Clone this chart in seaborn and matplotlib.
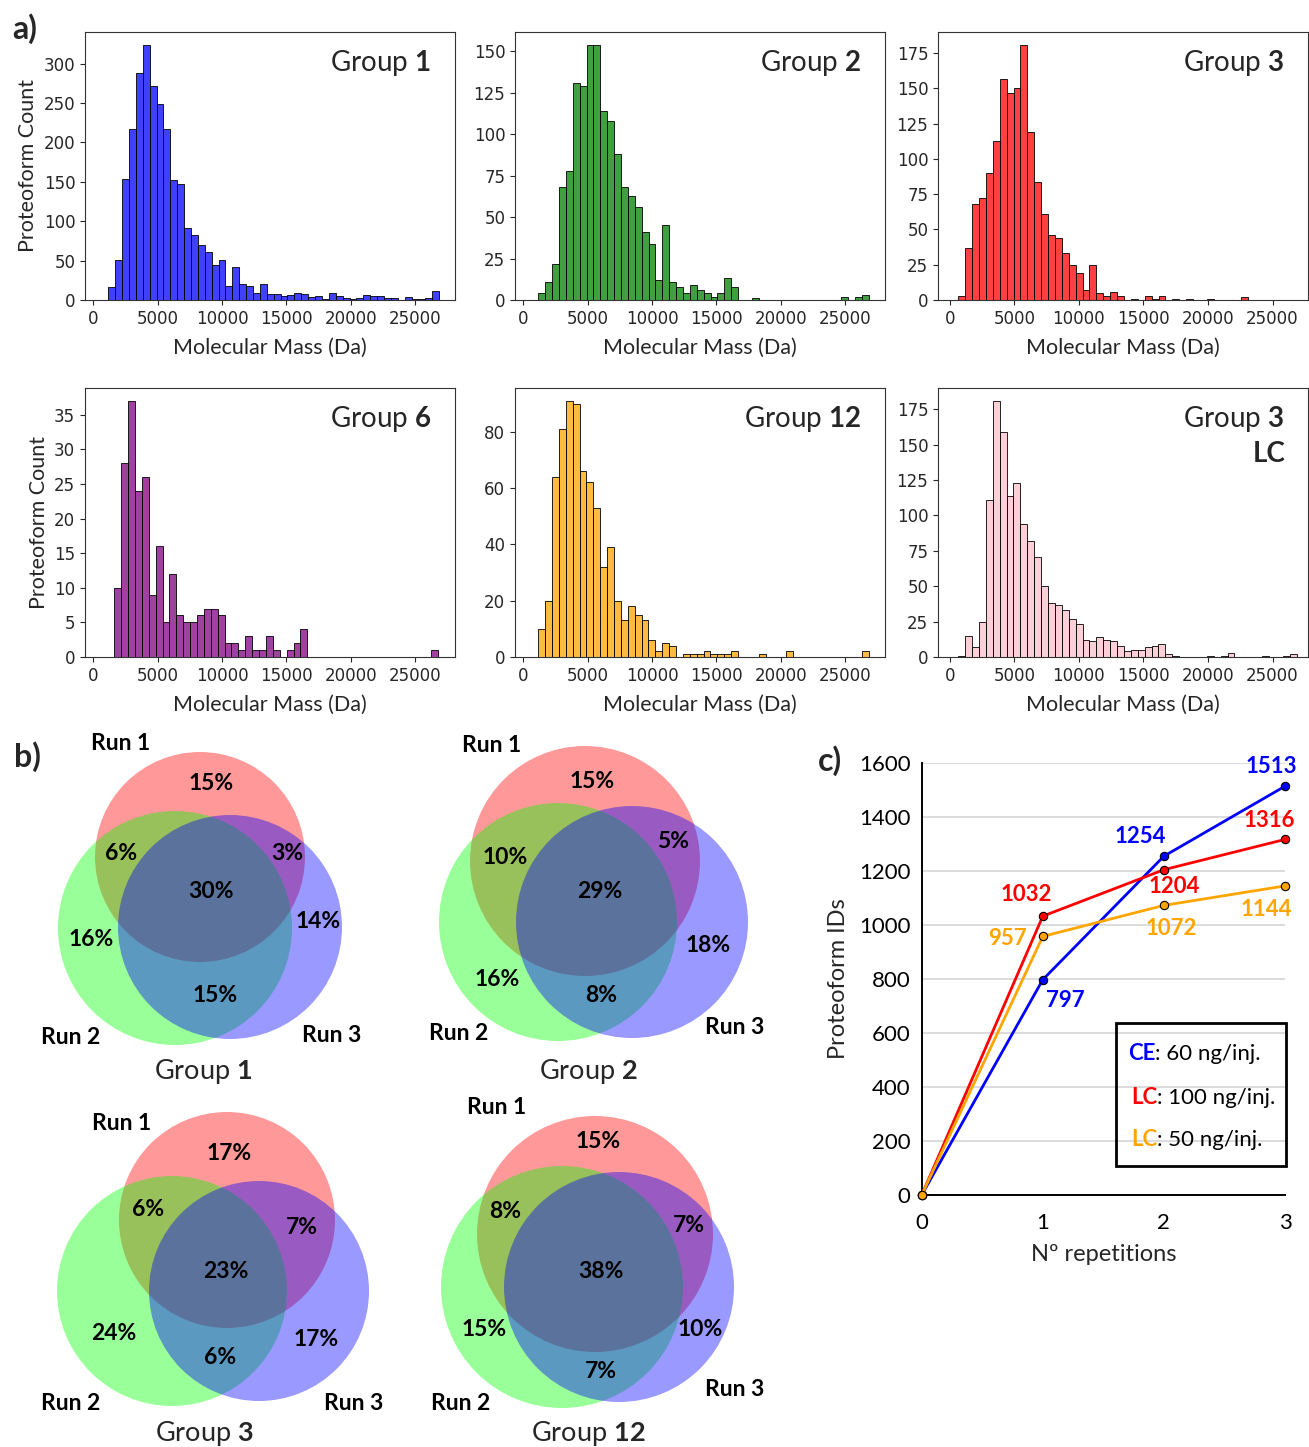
import matplotlib

matplotlib.use("Agg")

import matplotlib.pyplot as plt
import numpy as np
import pandas as pd
import seaborn as sns
from matplotlib.patches import Circle, Rectangle
from matplotlib.ticker import MultipleLocator

W, H = 1309, 1447

# ---- a) histograms: proteoform counts per mass bin (bin width ~535 Da)
hist_groups = ["1", "2", "3", "6", "12", "3"]
hist_colors = ["blue", "green", "red", "purple", "orange", "pink"]
bin_width = 535
bin_start = [1166, 1172, 651, 1635, 1166, 649]

counts_g1 = [17, 51, 154, 217, 288, 324, 272, 249, 217, 152, 147, 92, 82, 70, 61, 45,
             51, 18, 42, 20, 18, 9, 20, 7, 8, 5, 6, 9, 8, 4, 5, 1, 9, 5, 2, 1, 3, 6,
             5, 5, 3, 2, 0, 4, 1, 1, 2, 12]
counts_g2 = [4, 11, 22, 68, 78, 131, 129, 154, 154, 114, 108, 88, 68, 63, 56, 41, 34,
             12, 45, 11, 8, 4, 9, 6, 4, 2, 4, 13, 8, 0, 0, 1, 0, 0, 0, 0, 0, 0, 0, 0,
             0, 0, 0, 0, 2, 0, 2, 3]
counts_g3 = [3, 37, 68, 72, 90, 113, 157, 147, 150, 181, 119, 84, 61, 46, 44, 33, 25,
             19, 7, 25, 5, 3, 6, 3, 0, 1, 0, 3, 1, 3, 0, 1, 0, 1, 0, 0, 1, 0, 0, 0,
             0, 2]
counts_g6 = [10, 28, 37, 24, 26, 9, 16, 5, 12, 6, 5, 5, 6, 7, 7, 6, 2, 2, 1, 3, 1, 1,
             3, 1, 0, 1, 2, 4, 0, 0, 0, 0, 0, 0, 0, 0, 0, 0, 0, 0, 0, 0, 0, 0, 0, 0, 1]
counts_g12 = [10, 20, 64, 81, 91, 90, 66, 62, 53, 32, 39, 20, 13, 18, 15, 13, 6, 2, 5,
              4, 0, 1, 1, 1, 2, 1, 1, 1, 2, 0, 0, 0, 1, 0, 0, 0, 2, 0, 0, 0, 0, 0, 0,
              0, 0, 0, 0, 2]
counts_g3_lc = [1, 15, 7, 25, 111, 181, 159, 114, 123, 94, 82, 71, 50, 38, 37, 33, 27,
                23, 12, 11, 14, 12, 11, 8, 4, 5, 5, 7, 8, 9, 2, 1, 0, 0, 0, 0, 1, 0,
                1, 3, 0, 0, 0, 0, 1, 0, 0, 1, 2]
hist_counts = [counts_g1, counts_g2, counts_g3, counts_g6, counts_g12, counts_g3_lc]

# ---- b) Venn percentages: only1, only2, only3, 1&2, 1&3, 2&3, all
venn_groups = ["1", "2", "3", "12"]
venn_g1 = [15, 16, 14, 6, 3, 15, 30]
venn_g2 = [15, 16, 18, 10, 5, 8, 29]
venn_g3 = [17, 24, 17, 6, 7, 6, 23]
venn_g12 = [15, 15, 10, 8, 7, 7, 38]
venn_values = [venn_g1, venn_g2, venn_g3, venn_g12]
run_names = ["Run 1", "Run 2", "Run 3"]

# ---- c) cumulative proteoform IDs
reps = [0, 1, 2, 3]
ids_ce60 = [0, 797, 1254, 1513]
ids_lc100 = [0, 1032, 1204, 1316]
ids_lc50 = [0, 957, 1072, 1144]

# layout for the Venn diagrams (figure pixels): circles (x, y, r) and label spots
venn_circles = [
    [(200, 857, 105), (175, 928, 117), (230, 927, 112)],
    [(585, 861, 115), (558, 922, 119), (632, 922, 116)],
    [(227, 1220, 108), (172, 1291, 115), (259, 1291, 110)],
    [(595, 1234, 118), (562, 1287, 121), (619, 1287, 115)],
]
venn_label_xy = [
    [(211, 783), (91, 939), (318, 922), (121, 853), (287, 853), (215, 995), (211, 892)],
    [(592, 781), (497, 980), (708, 946), (505, 857), (673, 841), (601, 996), (600, 892)],
    [(229, 1153), (114, 1333), (316, 1339), (148, 1210), (302, 1228), (220, 1357), (226, 1272)],
    [(598, 1142), (484, 1330), (700, 1329), (505, 1212), (689, 1226), (601, 1372), (601, 1272)],
]
venn_run_xy = [
    [(121, 743), (71, 1038), (332, 1036)],
    [(492, 745), (459, 1033), (735, 1028)],
    [(122, 1123), (71, 1403), (354, 1403)],
    [(497, 1108), (461, 1403), (735, 1390)],
]
venn_title_xy = [(203, 1071), (588, 1072), (204, 1433), (588, 1433)]

sns.set_theme(style="ticks", rc={
    "axes.edgecolor": "0.2",
    "axes.linewidth": 0.8,
    "xtick.major.size": 3.5,
    "ytick.major.size": 3.5,
    "xtick.major.width": 0.8,
    "ytick.major.width": 0.8,
    "mathtext.fontset": "custom",
    "mathtext.rm": "Lato",
    "mathtext.bf": "Lato:bold",
})
plt.rcParams["font.family"] = ["Lato", "DejaVu Sans"]

fig = plt.figure(figsize=(W / 100, H / 100), dpi=100)

# ---- a) histogram grid
col_left = [85, 515, 938]
row_top = [32, 388]
row_bot = [300, 657]
xlims = [(-640, 28080), (-640, 28100), (-920, 27750)]
ystep = [50, 25, 25, 5, 20, 25]

for i, counts in enumerate(hist_counts):
    r, c = divmod(i, 3)
    ax = fig.add_axes([col_left[c] / W, 1 - row_bot[r] / H, 370 / W,
                       (row_bot[r] - row_top[r]) / H])
    edges = bin_start[i] + bin_width * np.arange(len(counts) + 1)
    df = pd.DataFrame({"mass": edges[:-1] + bin_width / 2, "count": counts})
    sns.histplot(data=df, x="mass", weights="count", bins=edges.tolist(),
                 color=hist_colors[i], alpha=0.75, edgecolor="black",
                 linewidth=0.6, ax=ax)
    ax.set_xlim(*xlims[c])
    ax.set_xticks(range(0, 25001, 5000))
    ax.yaxis.set_major_locator(MultipleLocator(ystep[i]))
    ax.tick_params(labelsize=12, labelfontfamily="DejaVu Sans", colors="0.15")
    ax.set_xlabel("Molecular Mass (Da)", fontsize=15.5, labelpad=7)
    ax.set_ylabel("Proteoform Count" if c == 0 else "", fontsize=15.5, labelpad=4)
    ax.text(0.935, 0.885, rf"Group $\mathbf{{{hist_groups[i]}}}$", transform=ax.transAxes,
            ha="right", va="center", fontsize=20)
    if i == 5:
        ax.text(0.94, 0.755, "LC", transform=ax.transAxes, ha="right", va="center",
                fontsize=20, fontweight="bold")

# ---- c) line chart
axc = fig.add_axes([921.7 / W, 1 - 1195 / H, 363.3 / W, 432.3 / H])
series = [
    (ids_ce60, "#0000ff", [(16, -14.7), (-16.8, 13.9), (-10, 14.3)]),
    (ids_lc100, "#ff0000", [(-12.1, 15.3), (7.7, -12.2), (-11.3, 13.5)]),
    (ids_lc50, "#ffa500", [(-25.2, -1.4), (5.5, -16.5), (-13.7, -16.8)]),
]
for vals, color, offsets in series:
    sns.lineplot(x=reps, y=vals, color=color, marker="o", markersize=6,
                 markeredgecolor="black", markeredgewidth=0.8, linewidth=2,
                 ax=axc, clip_on=False, zorder=3)
    for x, v, off in zip(reps[1:], vals[1:], offsets):
        axc.annotate(str(v), (x, v), xytext=off, textcoords="offset points",
                     ha="center", va="center", color=color, fontsize=16,
                     fontweight="bold")
axc.set_xlim(0, 3)
axc.set_ylim(0, 1600)
axc.set_xticks(reps)
axc.yaxis.set_major_locator(MultipleLocator(200))
axc.grid(axis="y", color="#d9d9d9", linewidth=1.3)
axc.set_axisbelow(True)
for side in ["top", "right"]:
    axc.spines[side].set_visible(False)
for side in ["left", "bottom"]:
    axc.spines[side].set_color("black")
    axc.spines[side].set_linewidth(1.4)
axc.tick_params(length=0, labelsize=16, colors="black")
axc.tick_params(axis="x", pad=13)
axc.tick_params(axis="y", pad=8)
axc.set_xlabel("Nº repetitions", fontsize=17, labelpad=8)
axc.set_ylabel("Proteoform IDs", fontsize=17, labelpad=7)

# ---- overlay for Venns, panel letters and the line-chart legend
ov = fig.add_axes([0, 0, 1, 1])
ov.set_xlim(0, W)
ov.set_ylim(H, 0)
ov.axis("off")
ov.set_zorder(10)

venn_colors = [(1, 0, 0), (0, 1, 0), (0, 0, 1)]
for k, vals in enumerate(venn_values):
    for (cx, cy, rad), col in zip(venn_circles[k], venn_colors):
        ov.add_patch(Circle((cx, cy), rad, facecolor=col, alpha=0.4, edgecolor="none"))
    for v, (tx, ty) in zip(vals, venn_label_xy[k]):
        ov.text(tx, ty, f"{v}%", ha="center", va="center", fontsize=16.5,
                fontweight="bold", color="black")
    for name, (tx, ty) in zip(run_names, venn_run_xy[k]):
        ov.text(tx, ty, name, ha="center", va="center", fontsize=16.5,
                fontweight="bold", color="black")
    tx, ty = venn_title_xy[k]
    ov.text(tx, ty, rf"Group $\mathbf{{{venn_groups[k]}}}$", ha="center",
            va="center", fontsize=19.5)

for letter, (tx, ty) in zip(["a)", "b)", "c)"], [(12, 29), (14, 757), (818, 761)]):
    ov.text(tx, ty, letter, ha="left", va="center", fontsize=23, fontweight="bold")

ov.add_patch(Rectangle((1116, 1023), 170, 143, fill=False, linewidth=2,
                       edgecolor="black"))
legend_rows = [("CE", ": 60 ng/inj.", "#0000ff", 1128, 1053),
               ("LC", ": 100 ng/inj.", "#ff0000", 1131, 1097),
               ("LC", ": 50 ng/inj.", "#ffa500", 1131, 1140)]
for key, rest, color, tx, ty in legend_rows:
    t = ov.text(tx, ty, key, ha="left", va="center", fontsize=16,
                fontweight="bold", color=color)
    ov.annotate(rest, xy=(1, 0), xycoords=t, ha="left", va="bottom",
                fontsize=16, color="black")

fig.savefig("out.png", dpi=100)
plt.close(fig)
